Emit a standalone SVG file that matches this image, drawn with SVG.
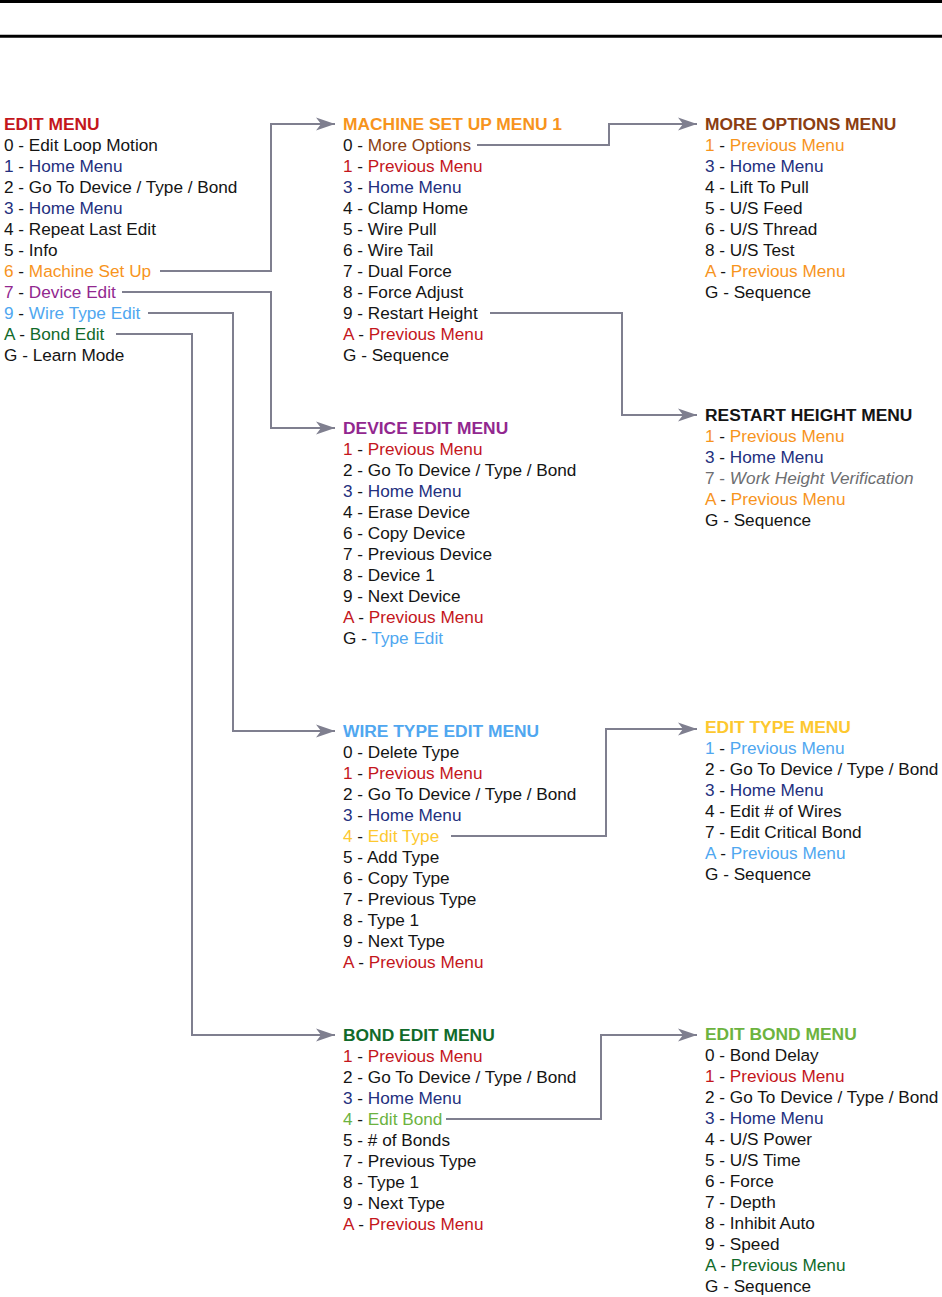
<svg xmlns="http://www.w3.org/2000/svg" width="942" height="1297" viewBox="0 0 942 1297">
<style>
text{font-family:"Liberation Sans",Arial,Helvetica,sans-serif;font-size:17.2px;fill:#141414}
.h{font-weight:bold;font-size:17.4px}
.red{fill:#c4161c}.org{fill:#f7941d}.nav{fill:#232f7e}.pur{fill:#92278f}.lbl{fill:#50a7f0}
.dgr{fill:#116a2a}.yel{fill:#fdc82f}.lgr{fill:#6cb33f}.brn{fill:#8b3d12}.gry{fill:#6d6e71}
.it{font-style:italic}
.c{fill:none;stroke:#7f7f8f;stroke-width:2}
</style>
<defs>
<marker id="ah" markerUnits="userSpaceOnUse" markerWidth="20" markerHeight="14" refX="19" refY="7" orient="auto">
<path d="M0,0.5 L19,7 L0,13.5 L5,7 Z" fill="#7f7f8f"/>
</marker>
</defs>
<rect x="0" y="0" width="942" height="1297" fill="#fff"/>
<line x1="0" y1="1.5" x2="942" y2="1.5" stroke="#000" stroke-width="3"/>
<line x1="0" y1="36.3" x2="942" y2="36.3" stroke="#000" stroke-width="3"/>

<g id="connectors">
<path class="c" d="M160,271 H271 V124 H335" marker-end="url(#ah)"/>
<path class="c" d="M122,292 H271 V428 H335" marker-end="url(#ah)"/>
<path class="c" d="M148,313 H233 V731 H335" marker-end="url(#ah)"/>
<path class="c" d="M116,334 H192 V1035 H335" marker-end="url(#ah)"/>
<path class="c" d="M477,145 H609 V124 H697" marker-end="url(#ah)"/>
<path class="c" d="M490,313 H622 V415 H697" marker-end="url(#ah)"/>
<path class="c" d="M451,836 H606 V729 H697" marker-end="url(#ah)"/>
<path class="c" d="M446,1119 H601 V1035 H697" marker-end="url(#ah)"/>
</g>

<g id="edit-menu">
<text class="h red" x="4" y="130">EDIT MENU</text>
<text x="4" y="151">0 - Edit Loop Motion</text>
<text x="4" y="172"><tspan class="nav">1</tspan> - <tspan class="nav">Home Menu</tspan></text>
<text x="4" y="193">2 - Go To Device / Type / Bond</text>
<text x="4" y="214"><tspan class="nav">3</tspan> - <tspan class="nav">Home Menu</tspan></text>
<text x="4" y="235">4 - Repeat Last Edit</text>
<text x="4" y="256">5 - Info</text>
<text x="4" y="277"><tspan class="org">6</tspan> - <tspan class="org">Machine Set Up</tspan></text>
<text x="4" y="298"><tspan class="pur">7</tspan> - <tspan class="pur">Device Edit</tspan></text>
<text x="4" y="319"><tspan class="lbl">9</tspan> - <tspan class="lbl">Wire Type Edit</tspan></text>
<text x="4" y="340"><tspan class="dgr">A</tspan> - <tspan class="dgr">Bond Edit</tspan></text>
<text x="4" y="361">G - Learn Mode</text>
</g>

<g id="machine-set-up-menu">
<text class="h org" x="343" y="130">MACHINE SET UP MENU 1</text>
<text x="343" y="151">0 - <tspan class="brn">More Options</tspan></text>
<text x="343" y="172"><tspan class="red">1</tspan> - <tspan class="red">Previous Menu</tspan></text>
<text x="343" y="193"><tspan class="nav">3</tspan> - <tspan class="nav">Home Menu</tspan></text>
<text x="343" y="214">4 - Clamp Home</text>
<text x="343" y="235">5 - Wire Pull</text>
<text x="343" y="256">6 - Wire Tail</text>
<text x="343" y="277">7 - Dual Force</text>
<text x="343" y="298">8 - Force Adjust</text>
<text x="343" y="319">9 - Restart Height</text>
<text x="343" y="340"><tspan class="red">A</tspan> - <tspan class="red">Previous Menu</tspan></text>
<text x="343" y="361">G - Sequence</text>
</g>

<g id="more-options-menu">
<text class="h brn" x="705" y="130">MORE OPTIONS MENU</text>
<text x="705" y="151"><tspan class="org">1</tspan> - <tspan class="org">Previous Menu</tspan></text>
<text x="705" y="172"><tspan class="nav">3</tspan> - <tspan class="nav">Home Menu</tspan></text>
<text x="705" y="193">4 - Lift To Pull</text>
<text x="705" y="214">5 - U/S Feed</text>
<text x="705" y="235">6 - U/S Thread</text>
<text x="705" y="256">8 - U/S Test</text>
<text x="705" y="277"><tspan class="org">A</tspan> - <tspan class="org">Previous Menu</tspan></text>
<text x="705" y="298">G - Sequence</text>
</g>

<g id="restart-height-menu">
<text class="h" x="705" y="421">RESTART HEIGHT MENU</text>
<text x="705" y="442"><tspan class="org">1</tspan> - <tspan class="org">Previous Menu</tspan></text>
<text x="705" y="463"><tspan class="nav">3</tspan> - <tspan class="nav">Home Menu</tspan></text>
<text x="705" y="484" class="gry">7 - <tspan class="it">Work Height Verification</tspan></text>
<text x="705" y="505"><tspan class="org">A</tspan> - <tspan class="org">Previous Menu</tspan></text>
<text x="705" y="526">G - Sequence</text>
</g>

<g id="device-edit-menu">
<text class="h pur" x="343" y="434">DEVICE EDIT MENU</text>
<text x="343" y="455"><tspan class="red">1</tspan> - <tspan class="red">Previous Menu</tspan></text>
<text x="343" y="476">2 - Go To Device / Type / Bond</text>
<text x="343" y="497"><tspan class="nav">3</tspan> - <tspan class="nav">Home Menu</tspan></text>
<text x="343" y="518">4 - Erase Device</text>
<text x="343" y="539">6 - Copy Device</text>
<text x="343" y="560">7 - Previous Device</text>
<text x="343" y="581">8 - Device 1</text>
<text x="343" y="602">9 - Next Device</text>
<text x="343" y="623"><tspan class="red">A</tspan> - <tspan class="red">Previous Menu</tspan></text>
<text x="343" y="644">G - <tspan class="lbl">Type Edit</tspan></text>
</g>

<g id="wire-type-edit-menu">
<text class="h lbl" x="343" y="737">WIRE TYPE EDIT MENU</text>
<text x="343" y="758">0 - Delete Type</text>
<text x="343" y="779"><tspan class="red">1</tspan> - <tspan class="red">Previous Menu</tspan></text>
<text x="343" y="800">2 - Go To Device / Type / Bond</text>
<text x="343" y="821"><tspan class="nav">3</tspan> - <tspan class="nav">Home Menu</tspan></text>
<text x="343" y="842"><tspan class="yel">4</tspan> - <tspan class="yel">Edit Type</tspan></text>
<text x="343" y="863">5 - Add Type</text>
<text x="343" y="884">6 - Copy Type</text>
<text x="343" y="905">7 - Previous Type</text>
<text x="343" y="926">8 - Type 1</text>
<text x="343" y="947">9 - Next Type</text>
<text x="343" y="968"><tspan class="red">A</tspan> - <tspan class="red">Previous Menu</tspan></text>
</g>

<g id="edit-type-menu">
<text class="h yel" x="705" y="733">EDIT TYPE MENU</text>
<text x="705" y="754"><tspan class="lbl">1</tspan> - <tspan class="lbl">Previous Menu</tspan></text>
<text x="705" y="775">2 - Go To Device / Type / Bond</text>
<text x="705" y="796"><tspan class="nav">3</tspan> - <tspan class="nav">Home Menu</tspan></text>
<text x="705" y="817">4 - Edit # of Wires</text>
<text x="705" y="838">7 - Edit Critical Bond</text>
<text x="705" y="859"><tspan class="lbl">A</tspan> - <tspan class="lbl">Previous Menu</tspan></text>
<text x="705" y="880">G - Sequence</text>
</g>

<g id="bond-edit-menu">
<text class="h dgr" x="343" y="1041">BOND EDIT MENU</text>
<text x="343" y="1062"><tspan class="red">1</tspan> - <tspan class="red">Previous Menu</tspan></text>
<text x="343" y="1083">2 - Go To Device / Type / Bond</text>
<text x="343" y="1104"><tspan class="nav">3</tspan> - <tspan class="nav">Home Menu</tspan></text>
<text x="343" y="1125"><tspan class="lgr">4</tspan> - <tspan class="lgr">Edit Bond</tspan></text>
<text x="343" y="1146">5 - # of Bonds</text>
<text x="343" y="1167">7 - Previous Type</text>
<text x="343" y="1188">8 - Type 1</text>
<text x="343" y="1209">9 - Next Type</text>
<text x="343" y="1230"><tspan class="red">A</tspan> - <tspan class="red">Previous Menu</tspan></text>
</g>

<g id="edit-bond-menu">
<text class="h lgr" x="705" y="1040">EDIT BOND MENU</text>
<text x="705" y="1061">0 - Bond Delay</text>
<text x="705" y="1082"><tspan class="red">1</tspan> - <tspan class="red">Previous Menu</tspan></text>
<text x="705" y="1103">2 - Go To Device / Type / Bond</text>
<text x="705" y="1124"><tspan class="nav">3</tspan> - <tspan class="nav">Home Menu</tspan></text>
<text x="705" y="1145">4 - U/S Power</text>
<text x="705" y="1166">5 - U/S Time</text>
<text x="705" y="1187">6 - Force</text>
<text x="705" y="1208">7 - Depth</text>
<text x="705" y="1229">8 - Inhibit Auto</text>
<text x="705" y="1250">9 - Speed</text>
<text x="705" y="1271"><tspan class="dgr">A</tspan> - <tspan class="dgr">Previous Menu</tspan></text>
<text x="705" y="1292">G - Sequence</text>
</g>
</svg>
